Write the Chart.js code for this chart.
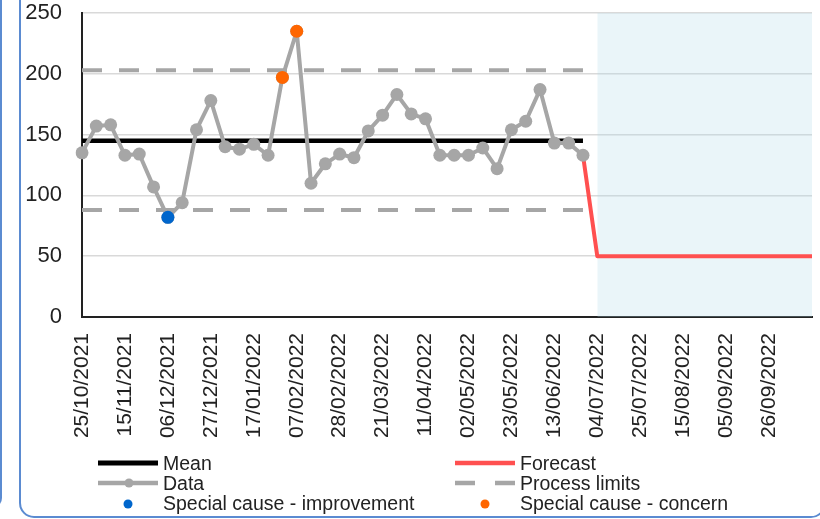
<!DOCTYPE html>
<html><head><meta charset="utf-8">
<script src="https://cdn.jsdelivr.net/npm/chart.js@4.4.1/dist/chart.umd.min.js"></script>
<style>
html,body{margin:0;padding:0;background:#fff;}
#wrap{position:relative;width:820px;height:519px;overflow:hidden;background:#fff;font-family:"Liberation Sans",Arial,sans-serif;color:#222;}
#c{position:absolute;left:0;top:0;}
.frameA{position:absolute;left:-120px;top:-40px;width:120px;height:546px;border-right:2px solid #5B8BD1;border-bottom:2px solid #5B8BD1;border-bottom-right-radius:10px;}
.frameB{position:absolute;left:19px;top:-40px;width:803px;height:554px;border:2px solid #5B8BD1;border-radius:15px;}
.lg{position:absolute;height:20px;line-height:20px;font-size:19.5px;white-space:nowrap;}
.lg svg{position:absolute;left:0;top:0;}
.lg span{position:absolute;left:65px;top:0;}
</style></head>
<body><div id="wrap">
<div class="frameA"></div><div class="frameB"></div>
<canvas id="c" width="820" height="519"></canvas>
<div id="legend"></div>
</div>
<script>
const categories = ["25/10/2021","01/11/2021","08/11/2021","15/11/2021","22/11/2021","29/11/2021","06/12/2021","13/12/2021","20/12/2021","27/12/2021","03/01/2022","10/01/2022","17/01/2022","24/01/2022","31/01/2022","07/02/2022","14/02/2022","21/02/2022","28/02/2022","07/03/2022","14/03/2022","21/03/2022","28/03/2022","04/04/2022","11/04/2022","18/04/2022","25/04/2022","02/05/2022","09/05/2022","16/05/2022","23/05/2022","30/05/2022","06/06/2022","13/06/2022","20/06/2022","27/06/2022","04/07/2022","11/07/2022","18/07/2022","25/07/2022","01/08/2022","08/08/2022","15/08/2022","22/08/2022","29/08/2022","05/09/2022","12/09/2022","19/09/2022","26/09/2022","03/10/2022","10/10/2022","17/10/2022"];
const tickLabels = ["25/10/2021","15/11/2021","06/12/2021","27/12/2021","17/01/2022","07/02/2022","28/02/2022","21/03/2022","11/04/2022","02/05/2022","23/05/2022","13/06/2022","04/07/2022","25/07/2022","15/08/2022","05/09/2022","26/09/2022"];
const dataValues = [135,157,158,133,134,107,82,94,154,178,140,138,142,133,197,235,110,126,134,131,153,166,183,167,163,133,133,133,139,122,154,161,187,143,143,133];
const meanValue = 145;
const upperLimit = 203;
const lowerLimit = 88;
const forecastValue = 50;
const improvementIdx = [6];
const concernIdx = [14,15];
const yTicks = [0,50,100,150,200,250];

const n = dataValues.length;
const pad = arr => categories.map((_, i) => (i < arr.length ? arr[i] : null));
const dataSeries = pad(dataValues);
const meanSeries = categories.map((_, i) => i < n ? meanValue : null);
const uclSeries = categories.map((_, i) => i < n ? upperLimit : null);
const lclSeries = categories.map((_, i) => i < n ? lowerLimit : null);
const forecastSeries = categories.map((_, i) => i === n - 1 ? dataValues[i] : (i >= n ? forecastValue : null));
const shadeSeries = categories.map((_, i) => i >= n ? yTicks[yTicks.length - 1] : null);
const improvementSeries = categories.map((_, i) => improvementIdx.includes(i) ? dataValues[i] : null);
const concernSeries = categories.map((_, i) => concernIdx.includes(i) ? dataValues[i] : null);

const C = { mean:'#000000', data:'#A6A6A6', limits:'#A6A6A6', forecast:'#FF5050', imp:'#0066CC', con:'#FF6600', shade:'rgba(173,216,230,0.26)' };

const chart = new Chart(document.getElementById('c'), {
  type: 'line',
  data: {
    labels: categories,
    datasets: [
      { label:'Forecast region', data: shadeSeries, borderWidth:0, pointRadius:0, fill:'origin', backgroundColor:C.shade, borderColor:'rgba(0,0,0,0)', order:10, spanGaps:false },
      { label:'Process limits', data: uclSeries, borderColor:C.limits, borderWidth:4, borderDash:[20,17], pointRadius:0, fill:false, order:6 },
      { label:'Process limits (lower)', data: lclSeries, borderColor:C.limits, borderWidth:4, borderDash:[20,17], pointRadius:0, fill:false, order:6 },
      { label:'Mean', data: meanSeries, borderColor:C.mean, borderWidth:4.5, pointRadius:0, fill:false, order:5 },
      { label:'Forecast', data: forecastSeries, borderColor:C.forecast, borderWidth:4, borderJoinStyle:'round', pointRadius:0, fill:false, order:4 },
      { label:'Data', data: dataSeries, borderColor:C.data, backgroundColor:C.data, borderWidth:4, borderJoinStyle:'round', borderCapStyle:'round', pointRadius:6.5, pointBorderWidth:0, pointBackgroundColor:C.data, fill:false, order:3 },
      { label:'Special cause - improvement', data: improvementSeries, showLine:false, pointRadius:6.5, pointBorderWidth:0, pointBackgroundColor:C.imp, backgroundColor:C.imp, borderColor:C.imp, order:1 },
      { label:'Special cause - concern', data: concernSeries, showLine:false, pointRadius:6.5, pointBorderWidth:0, pointBackgroundColor:C.con, backgroundColor:C.con, borderColor:C.con, order:1 }
    ]
  },
  options: {
    responsive:false, animation:false, devicePixelRatio:1,
    layout:{ padding:{ left:0, top:13, right:8, bottom:0 } },
    plugins:{ legend:{display:false}, tooltip:{enabled:false} },
    elements:{ line:{ tension:0 } },
    scales:{
      x:{
        grid:{ display:false },
        border:{ display:true, color:'#222', width:2 },
        ticks:{
          autoSkip:false, maxRotation:90, minRotation:90, padding:8,
          color:'#222', font:{ family:'"Liberation Sans", Arial, sans-serif', size:21 },
          callback:(v, i) => tickLabels.includes(categories[i]) ? categories[i] : null
        },
        afterFit: s => { s.height = 202; s.paddingLeft = 0; s.paddingRight = 0; }
      },
      y:{
        min:0, max:250,
        grid:{ color:'#D9D9D9', lineWidth:1.5, drawTicks:false },
        border:{ display:true, color:'#222', width:2 },
        ticks:{ stepSize:50, padding:20, color:'#222', font:{ family:'"Liberation Sans", Arial, sans-serif', size:22 } },
        afterBuildTicks: s => { s.ticks = yTicks.map(v => ({ value:v })); },
        afterFit: s => { s.width = 82; s.paddingTop = 0; s.paddingBottom = 0; }
      }
    }
  }
});

// HTML legend built from the chart datasets
const legendItems = [
  { ds:'Mean', kind:'line', x:98, y:453 },
  { ds:'Data', kind:'linepoint', x:98, y:473 },
  { ds:'Special cause - improvement', kind:'point', x:98, y:493 },
  { ds:'Forecast', kind:'line', x:455, y:453 },
  { ds:'Process limits', kind:'dash', x:455, y:473 },
  { ds:'Special cause - concern', kind:'point', x:455, y:493 }
];
const lg = document.getElementById('legend');
legendItems.forEach(it => {
  const d = chart.data.datasets.find(s => s.label === it.ds);
  const col = d.borderColor;
  let sw = '';
  if (it.kind === 'line') sw = `<line x1="0" y1="10" x2="60" y2="10" stroke="${col}" stroke-width="${it.ds==='Mean'?5:4.5}"/>`;
  if (it.kind === 'linepoint') sw = `<line x1="0" y1="10" x2="60" y2="10" stroke="${col}" stroke-width="4.5"/><circle cx="31" cy="10" r="4.5" fill="${col}"/>`;
  if (it.kind === 'dash') sw = `<line x1="0" y1="10" x2="60" y2="10" stroke="${col}" stroke-width="4.5" stroke-dasharray="20 20"/>`;
  if (it.kind === 'point') sw = `<circle cx="30" cy="11" r="4.5" fill="${col}"/>`;
  const el = document.createElement('div');
  el.className = 'lg';
  el.style.left = it.x + 'px'; el.style.top = it.y + 'px';
  el.innerHTML = `<svg width="60" height="20">${sw}</svg><span>${it.ds}</span>`;
  lg.appendChild(el);
});
</script>
</body></html>
